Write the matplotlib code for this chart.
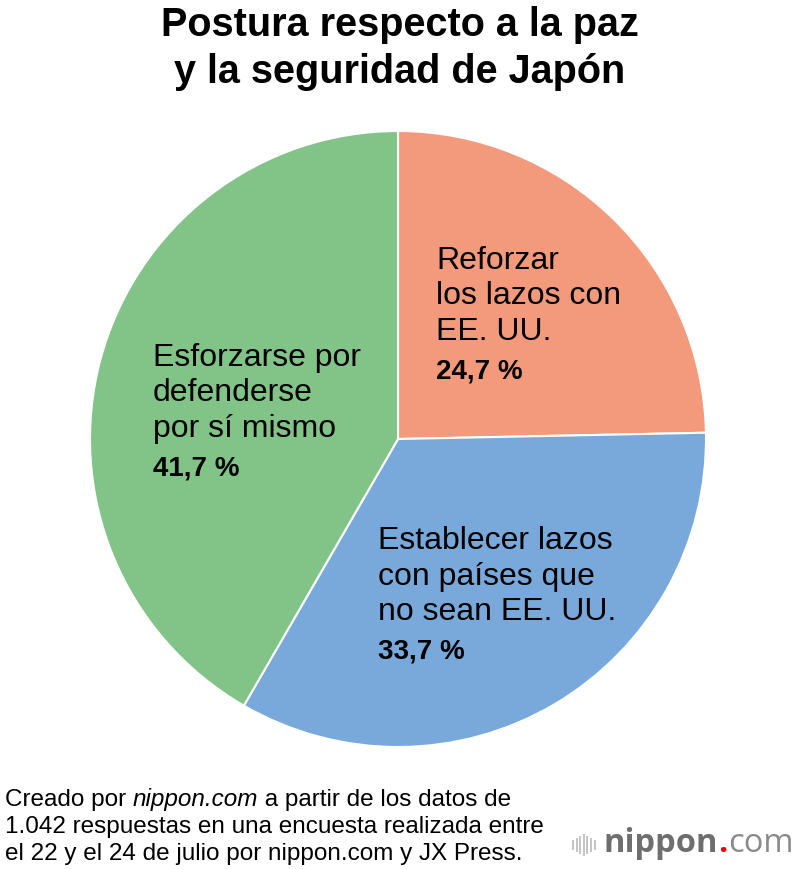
import matplotlib.pyplot as plt

# datos
categorias = ['Reforzar\nlos lazos con\nEE. UU.',
              'Establecer lazos\ncon países que\nno sean EE. UU.',
              'Esforzarse por\ndefenderse\npor sí mismo']
valores = [24.7, 33.7, 41.7]
colores = ['#F29A7B', '#78A9DA', '#82C488']

titulo = 'Postura respecto a la paz\ny la seguridad de Japón'

plt.rcParams['font.family'] = ['Liberation Sans', 'DejaVu Sans']

W, H = 800, 870
fig = plt.figure(figsize=(W / 100, H / 100), dpi=100)
ax = fig.add_axes([0, 0, 1, 1])

# pastel (coordenadas en píxeles, y hacia arriba)
cx, cy, r = 398, H - 440, 308
ax.pie(valores, colors=colores, startangle=90, counterclock=False,
       center=(cx, cy), radius=r, frame=True,
       wedgeprops=dict(edgecolor='white', linewidth=1.5))
ax.set_xlim(0, W)
ax.set_ylim(0, H)
ax.set_aspect('equal')
ax.axis('off')

fig.canvas.draw()
ren = fig.canvas.get_renderer()

# etiquetas dentro de cada sector
pos_etiquetas = [(436, 261), (378, 541), (153, 358)]
for cat, val, (px, py) in zip(categorias, valores, pos_etiquetas):
    lineas = cat.split('\n')
    for i, l in enumerate(lineas):
        ax.text(px, H - (py + i * 35.5), l, fontsize=23, va='center',
                ha='left', color='black')
    ax.text(px, H - (py + len(lineas) * 35.5 + 4), f'{val:.1f} %'.replace('.', ','),
            fontsize=20, fontweight='bold', va='center', ha='left')

# título
ax.text(400, H - 25, titulo.split('\n')[0], fontsize=28.5, fontweight='bold',
        ha='center', va='center')
ax.text(400, H - 72, titulo.split('\n')[1], fontsize=28.5, fontweight='bold',
        ha='center', va='center')

# nota al pie
fs = 17.5
nota = [('Creado por ', 'normal'), ('nippon.com', 'italic'),
        (' a partir de los datos de', 'normal')]
x = 5
for s, est in nota:
    tt = ax.text(x, H - 800, s, fontsize=fs, style=est, va='center', ha='left')
    x += tt.get_window_extent(renderer=ren).width
ax.text(5, H - 827, '1.042 respuestas en una encuesta realizada entre',
        fontsize=fs, va='center', ha='left')
ax.text(5, H - 854, 'el 22 y el 24 de julio por nippon.com y JX Press.',
        fontsize=fs, va='center', ha='left')

# logo
logo_font = ['Open Sans', 'DejaVu Sans']
for i, hh in enumerate([10, 14, 18, 22, 18, 14, 10]):
    ax.plot([573 + i * 3.6] * 2, [H - 846 - hh / 2, H - 846 + hh / 2],
            color='#c4c4c4', lw=1.4, solid_capstyle='butt')
lx = 604
for s, c, w in [('nippon', '#6e6e6e', 'bold'), ('.', '#e60012', 'bold'),
                ('com', '#8a8a8a', 'normal')]:
    tt = ax.text(lx, H - 844, s, fontsize=23.5, color=c, fontweight=w,
                 va='center', ha='left', family=logo_font)
    lx += tt.get_window_extent(renderer=ren).width

fig.savefig('out.png', dpi=100, facecolor='white')
